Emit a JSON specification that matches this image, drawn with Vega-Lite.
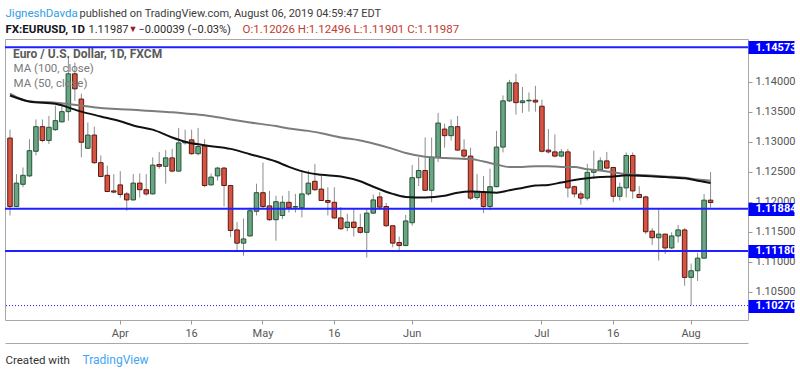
{
  "$schema": "https://vega.github.io/schema/vega-lite/v6.json",
  "width": 743,
  "height": 281,
  "autosize": {"type": "none"},
  "padding": {"left": 5, "top": 39, "right": 52, "bottom": 56},
  "background": "white",
  "config": {
    "view": {"stroke": "#a8a8a8", "strokeWidth": 1},
    "font": "Roboto, sans-serif"
  },
  "datasets": {
    "candles": [
      {"date": "2019-03-07", "open": 1.1306, "high": 1.1320, "low": 1.1177, "close": 1.1192},
      {"date": "2019-03-08", "open": 1.1192, "high": 1.1246, "low": 1.1191, "close": 1.1231},
      {"date": "2019-03-11", "open": 1.1229, "high": 1.1257, "low": 1.1224, "close": 1.1244},
      {"date": "2019-03-12", "open": 1.1243, "high": 1.1304, "low": 1.1241, "close": 1.1285},
      {"date": "2019-03-13", "open": 1.1284, "high": 1.1337, "low": 1.1277, "close": 1.1325},
      {"date": "2019-03-14", "open": 1.1325, "high": 1.1337, "low": 1.1299, "close": 1.1302},
      {"date": "2019-03-15", "open": 1.1302, "high": 1.1343, "low": 1.1296, "close": 1.1324},
      {"date": "2019-03-18", "open": 1.1320, "high": 1.1360, "low": 1.1318, "close": 1.1335},
      {"date": "2019-03-19", "open": 1.1333, "high": 1.1360, "low": 1.1332, "close": 1.1350},
      {"date": "2019-03-20", "open": 1.1350, "high": 1.1443, "low": 1.1335, "close": 1.1413},
      {"date": "2019-03-21", "open": 1.1413, "high": 1.1432, "low": 1.1368, "close": 1.1388},
      {"date": "2019-03-22", "open": 1.1371, "high": 1.1380, "low": 1.1274, "close": 1.1299},
      {"date": "2019-03-25", "open": 1.1289, "high": 1.1332, "low": 1.1288, "close": 1.1311},
      {"date": "2019-03-26", "open": 1.1311, "high": 1.1325, "low": 1.1263, "close": 1.1265},
      {"date": "2019-03-27", "open": 1.1265, "high": 1.1277, "low": 1.1241, "close": 1.1242},
      {"date": "2019-03-28", "open": 1.1244, "high": 1.1260, "low": 1.1216, "close": 1.1217},
      {"date": "2019-03-29", "open": 1.1218, "high": 1.1246, "low": 1.1214, "close": 1.1216},
      {"date": "2019-04-01", "open": 1.1228, "high": 1.1251, "low": 1.1207, "close": 1.1212},
      {"date": "2019-04-02", "open": 1.1213, "high": 1.1216, "low": 1.1185, "close": 1.1203},
      {"date": "2019-04-03", "open": 1.1203, "high": 1.1246, "low": 1.1202, "close": 1.1231},
      {"date": "2019-04-04", "open": 1.1231, "high": 1.1247, "low": 1.1207, "close": 1.1220},
      {"date": "2019-04-05", "open": 1.1220, "high": 1.1246, "low": 1.1210, "close": 1.1213},
      {"date": "2019-04-08", "open": 1.1213, "high": 1.1274, "low": 1.1212, "close": 1.1261},
      {"date": "2019-04-09", "open": 1.1262, "high": 1.1283, "low": 1.1255, "close": 1.1259},
      {"date": "2019-04-10", "open": 1.1259, "high": 1.1286, "low": 1.1230, "close": 1.1273},
      {"date": "2019-04-11", "open": 1.1273, "high": 1.1288, "low": 1.1249, "close": 1.1251},
      {"date": "2019-04-12", "open": 1.1251, "high": 1.1323, "low": 1.1250, "close": 1.1298},
      {"date": "2019-04-15", "open": 1.1298, "high": 1.1320, "low": 1.1295, "close": 1.1300},
      {"date": "2019-04-16", "open": 1.1303, "high": 1.1320, "low": 1.1278, "close": 1.1280},
      {"date": "2019-04-17", "open": 1.1280, "high": 1.1323, "low": 1.1277, "close": 1.1292},
      {"date": "2019-04-18", "open": 1.1293, "high": 1.1304, "low": 1.1224, "close": 1.1227},
      {"date": "2019-04-19", "open": 1.1228, "high": 1.1247, "low": 1.1227, "close": 1.1241},
      {"date": "2019-04-22", "open": 1.1243, "high": 1.1258, "low": 1.1235, "close": 1.1256},
      {"date": "2019-04-23", "open": 1.1256, "high": 1.1258, "low": 1.1192, "close": 1.1227},
      {"date": "2019-04-24", "open": 1.1227, "high": 1.1228, "low": 1.1141, "close": 1.1152},
      {"date": "2019-04-25", "open": 1.1153, "high": 1.1166, "low": 1.1118, "close": 1.1131},
      {"date": "2019-04-26", "open": 1.1131, "high": 1.1172, "low": 1.1110, "close": 1.1138},
      {"date": "2019-04-29", "open": 1.1143, "high": 1.1190, "low": 1.1142, "close": 1.1185},
      {"date": "2019-04-30", "open": 1.1184, "high": 1.1230, "low": 1.1177, "close": 1.1215},
      {"date": "2019-05-01", "open": 1.1215, "high": 1.1265, "low": 1.1188, "close": 1.1192},
      {"date": "2019-05-02", "open": 1.1193, "high": 1.1218, "low": 1.1168, "close": 1.1170},
      {"date": "2019-05-03", "open": 1.1170, "high": 1.1210, "low": 1.1135, "close": 1.1200},
      {"date": "2019-05-06", "open": 1.1177, "high": 1.1210, "low": 1.1171, "close": 1.1199},
      {"date": "2019-05-07", "open": 1.1199, "high": 1.1218, "low": 1.1182, "close": 1.1190},
      {"date": "2019-05-08", "open": 1.1191, "high": 1.1213, "low": 1.1182, "close": 1.1192},
      {"date": "2019-05-09", "open": 1.1190, "high": 1.1252, "low": 1.1174, "close": 1.1213},
      {"date": "2019-05-10", "open": 1.1213, "high": 1.1252, "low": 1.1210, "close": 1.1231},
      {"date": "2019-05-13", "open": 1.1234, "high": 1.1263, "low": 1.1218, "close": 1.1220},
      {"date": "2019-05-14", "open": 1.1221, "high": 1.1243, "low": 1.1201, "close": 1.1202},
      {"date": "2019-05-15", "open": 1.1202, "high": 1.1224, "low": 1.1177, "close": 1.1199},
      {"date": "2019-05-16", "open": 1.1199, "high": 1.1224, "low": 1.1171, "close": 1.1173},
      {"date": "2019-05-17", "open": 1.1173, "high": 1.1191, "low": 1.1153, "close": 1.1155},
      {"date": "2019-05-20", "open": 1.1157, "high": 1.1180, "low": 1.1151, "close": 1.1166},
      {"date": "2019-05-21", "open": 1.1166, "high": 1.1188, "low": 1.1142, "close": 1.1157},
      {"date": "2019-05-22", "open": 1.1157, "high": 1.1180, "low": 1.1147, "close": 1.1149},
      {"date": "2019-05-23", "open": 1.1149, "high": 1.1188, "low": 1.1107, "close": 1.1181},
      {"date": "2019-05-24", "open": 1.1181, "high": 1.1212, "low": 1.1180, "close": 1.1203},
      {"date": "2019-05-27", "open": 1.1208, "high": 1.1216, "low": 1.1186, "close": 1.1191},
      {"date": "2019-05-28", "open": 1.1192, "high": 1.1198, "low": 1.1158, "close": 1.1160},
      {"date": "2019-05-29", "open": 1.1160, "high": 1.1160, "low": 1.1124, "close": 1.1131},
      {"date": "2019-05-30", "open": 1.1132, "high": 1.1142, "low": 1.1117, "close": 1.1127},
      {"date": "2019-05-31", "open": 1.1127, "high": 1.1178, "low": 1.1126, "close": 1.1168},
      {"date": "2019-06-03", "open": 1.1165, "high": 1.1261, "low": 1.1160, "close": 1.1240},
      {"date": "2019-06-04", "open": 1.1240, "high": 1.1274, "low": 1.1226, "close": 1.1252},
      {"date": "2019-06-05", "open": 1.1252, "high": 1.1307, "low": 1.1218, "close": 1.1219},
      {"date": "2019-06-06", "open": 1.1219, "high": 1.1307, "low": 1.1199, "close": 1.1274},
      {"date": "2019-06-07", "open": 1.1274, "high": 1.1348, "low": 1.1266, "close": 1.1331},
      {"date": "2019-06-10", "open": 1.1321, "high": 1.1330, "low": 1.1290, "close": 1.1310},
      {"date": "2019-06-11", "open": 1.1310, "high": 1.1337, "low": 1.1302, "close": 1.1325},
      {"date": "2019-06-12", "open": 1.1325, "high": 1.1343, "low": 1.1285, "close": 1.1286},
      {"date": "2019-06-13", "open": 1.1286, "high": 1.1304, "low": 1.1270, "close": 1.1276},
      {"date": "2019-06-14", "open": 1.1276, "high": 1.1290, "low": 1.1203, "close": 1.1206},
      {"date": "2019-06-17", "open": 1.1207, "high": 1.1246, "low": 1.1203, "close": 1.1216},
      {"date": "2019-06-18", "open": 1.1216, "high": 1.1243, "low": 1.1181, "close": 1.1192},
      {"date": "2019-06-19", "open": 1.1192, "high": 1.1255, "low": 1.1186, "close": 1.1225},
      {"date": "2019-06-20", "open": 1.1225, "high": 1.1318, "low": 1.1224, "close": 1.1291},
      {"date": "2019-06-21", "open": 1.1291, "high": 1.1377, "low": 1.1282, "close": 1.1368},
      {"date": "2019-06-24", "open": 1.1368, "high": 1.1403, "low": 1.1366, "close": 1.1398},
      {"date": "2019-06-25", "open": 1.1398, "high": 1.1413, "low": 1.1345, "close": 1.1365},
      {"date": "2019-06-26", "open": 1.1365, "high": 1.1391, "low": 1.1348, "close": 1.1368},
      {"date": "2019-06-27", "open": 1.1368, "high": 1.1382, "low": 1.1350, "close": 1.1369},
      {"date": "2019-06-28", "open": 1.1369, "high": 1.1393, "low": 1.1350, "close": 1.1366},
      {"date": "2019-07-01", "open": 1.1359, "high": 1.1370, "low": 1.1282, "close": 1.1284},
      {"date": "2019-07-02", "open": 1.1286, "high": 1.1321, "low": 1.1280, "close": 1.1283},
      {"date": "2019-07-03", "open": 1.1283, "high": 1.1312, "low": 1.1274, "close": 1.1276},
      {"date": "2019-07-04", "open": 1.1276, "high": 1.1288, "low": 1.1274, "close": 1.1283},
      {"date": "2019-07-05", "open": 1.1283, "high": 1.1288, "low": 1.1207, "close": 1.1223},
      {"date": "2019-07-08", "open": 1.1225, "high": 1.1227, "low": 1.1207, "close": 1.1213},
      {"date": "2019-07-09", "open": 1.1213, "high": 1.1217, "low": 1.1195, "close": 1.1206},
      {"date": "2019-07-10", "open": 1.1206, "high": 1.1263, "low": 1.1202, "close": 1.1249},
      {"date": "2019-07-11", "open": 1.1249, "high": 1.1285, "low": 1.1238, "close": 1.1253},
      {"date": "2019-07-12", "open": 1.1253, "high": 1.1274, "low": 1.1252, "close": 1.1268},
      {"date": "2019-07-15", "open": 1.1268, "high": 1.1283, "low": 1.1255, "close": 1.1256},
      {"date": "2019-07-16", "open": 1.1257, "high": 1.1258, "low": 1.1199, "close": 1.1209},
      {"date": "2019-07-17", "open": 1.1209, "high": 1.1232, "low": 1.1202, "close": 1.1224},
      {"date": "2019-07-18", "open": 1.1223, "high": 1.1282, "low": 1.1207, "close": 1.1277},
      {"date": "2019-07-19", "open": 1.1277, "high": 1.1282, "low": 1.1205, "close": 1.1218},
      {"date": "2019-07-22", "open": 1.1212, "high": 1.1226, "low": 1.1206, "close": 1.1207},
      {"date": "2019-07-23", "open": 1.1208, "high": 1.1210, "low": 1.1146, "close": 1.1150},
      {"date": "2019-07-24", "open": 1.1151, "high": 1.1156, "low": 1.1128, "close": 1.1140},
      {"date": "2019-07-25", "open": 1.1140, "high": 1.1188, "low": 1.1102, "close": 1.1146},
      {"date": "2019-07-26", "open": 1.1146, "high": 1.1147, "low": 1.1113, "close": 1.1123},
      {"date": "2019-07-29", "open": 1.1123, "high": 1.1149, "low": 1.1121, "close": 1.1143},
      {"date": "2019-07-30", "open": 1.1143, "high": 1.1161, "low": 1.1132, "close": 1.1153},
      {"date": "2019-07-31", "open": 1.1153, "high": 1.1156, "low": 1.1060, "close": 1.1074},
      {"date": "2019-08-01", "open": 1.1074, "high": 1.1097, "low": 1.1027, "close": 1.1085},
      {"date": "2019-08-02", "open": 1.1085, "high": 1.1115, "low": 1.1068, "close": 1.1106},
      {"date": "2019-08-05", "open": 1.1106, "high": 1.1213, "low": 1.1105, "close": 1.12026},
      {"date": "2019-08-06", "open": 1.12026, "high": 1.12496, "low": 1.11901, "close": 1.11987}
    ],
    "ma": [
      {"date": "2019-03-07", "ma100": 1.1380, "ma50": 1.1377},
      {"date": "2019-03-12", "ma100": 1.1367, "ma50": 1.1367},
      {"date": "2019-03-18", "ma100": 1.1365, "ma50": 1.1363},
      {"date": "2019-03-22", "ma100": 1.1360, "ma50": 1.1350},
      {"date": "2019-03-27", "ma100": 1.1356, "ma50": 1.1342},
      {"date": "2019-04-01", "ma100": 1.1354, "ma50": 1.1334},
      {"date": "2019-04-03", "ma100": 1.1353, "ma50": 1.1327},
      {"date": "2019-04-08", "ma100": 1.1351, "ma50": 1.1320},
      {"date": "2019-04-11", "ma100": 1.1349, "ma50": 1.1307},
      {"date": "2019-04-15", "ma100": 1.1347, "ma50": 1.1300},
      {"date": "2019-04-18", "ma100": 1.1344, "ma50": 1.1294},
      {"date": "2019-04-24", "ma100": 1.1337, "ma50": 1.1288},
      {"date": "2019-04-29", "ma100": 1.1332, "ma50": 1.1279},
      {"date": "2019-05-03", "ma100": 1.1326, "ma50": 1.1267},
      {"date": "2019-05-07", "ma100": 1.1322, "ma50": 1.1258},
      {"date": "2019-05-10", "ma100": 1.1318, "ma50": 1.1248},
      {"date": "2019-05-14", "ma100": 1.1314, "ma50": 1.1245},
      {"date": "2019-05-17", "ma100": 1.1307, "ma50": 1.1242},
      {"date": "2019-05-22", "ma100": 1.1302, "ma50": 1.1234},
      {"date": "2019-05-24", "ma100": 1.1297, "ma50": 1.1225},
      {"date": "2019-05-29", "ma100": 1.1288, "ma50": 1.1213},
      {"date": "2019-05-31", "ma100": 1.1281, "ma50": 1.1208},
      {"date": "2019-06-05", "ma100": 1.1275, "ma50": 1.1207},
      {"date": "2019-06-10", "ma100": 1.1273, "ma50": 1.1210},
      {"date": "2019-06-12", "ma100": 1.1272, "ma50": 1.1215},
      {"date": "2019-06-14", "ma100": 1.1271, "ma50": 1.1217},
      {"date": "2019-06-18", "ma100": 1.1267, "ma50": 1.1216},
      {"date": "2019-06-20", "ma100": 1.1262, "ma50": 1.1215},
      {"date": "2019-06-24", "ma100": 1.1258, "ma50": 1.1219},
      {"date": "2019-06-26", "ma100": 1.1258, "ma50": 1.1223},
      {"date": "2019-06-28", "ma100": 1.1259, "ma50": 1.1227},
      {"date": "2019-07-02", "ma100": 1.1259, "ma50": 1.1228},
      {"date": "2019-07-04", "ma100": 1.1258, "ma50": 1.1232},
      {"date": "2019-07-08", "ma100": 1.1258, "ma50": 1.1236},
      {"date": "2019-07-10", "ma100": 1.1254, "ma50": 1.1239},
      {"date": "2019-07-12", "ma100": 1.1252, "ma50": 1.1241},
      {"date": "2019-07-16", "ma100": 1.1249, "ma50": 1.1242},
      {"date": "2019-07-18", "ma100": 1.1246, "ma50": 1.1244},
      {"date": "2019-07-23", "ma100": 1.1244, "ma50": 1.1243},
      {"date": "2019-07-26", "ma100": 1.1242, "ma50": 1.1241},
      {"date": "2019-07-31", "ma100": 1.1240, "ma50": 1.1239},
      {"date": "2019-08-02", "ma100": 1.1237, "ma50": 1.1235},
      {"date": "2019-08-06", "ma100": 1.1235, "ma50": 1.1231}
    ],
    "levels": [
      {"price": 1.14573},
      {"price": 1.11884},
      {"price": 1.1118},
      {"price": 1.1027}
    ]
  },
  "layer": [
    {
      "data": {"name": "candles"},
      "mark": {"type": "rule", "color": "#8c8c8c", "strokeWidth": 1},
      "encoding": {
        "x": {
          "field": "date", "type": "ordinal",
          "scale": {
            "domain": ["2019-03-07","2019-03-08","2019-03-11","2019-03-12","2019-03-13","2019-03-14","2019-03-15","2019-03-18","2019-03-19","2019-03-20","2019-03-21","2019-03-22","2019-03-25","2019-03-26","2019-03-27","2019-03-28","2019-03-29","2019-04-01","2019-04-02","2019-04-03","2019-04-04","2019-04-05","2019-04-08","2019-04-09","2019-04-10","2019-04-11","2019-04-12","2019-04-15","2019-04-16","2019-04-17","2019-04-18","2019-04-19","2019-04-22","2019-04-23","2019-04-24","2019-04-25","2019-04-26","2019-04-29","2019-04-30","2019-05-01","2019-05-02","2019-05-03","2019-05-06","2019-05-07","2019-05-08","2019-05-09","2019-05-10","2019-05-13","2019-05-14","2019-05-15","2019-05-16","2019-05-17","2019-05-20","2019-05-21","2019-05-22","2019-05-23","2019-05-24","2019-05-27","2019-05-28","2019-05-29","2019-05-30","2019-05-31","2019-06-03","2019-06-04","2019-06-05","2019-06-06","2019-06-07","2019-06-10","2019-06-11","2019-06-12","2019-06-13","2019-06-14","2019-06-17","2019-06-18","2019-06-19","2019-06-20","2019-06-21","2019-06-24","2019-06-25","2019-06-26","2019-06-27","2019-06-28","2019-07-01","2019-07-02","2019-07-03","2019-07-04","2019-07-05","2019-07-08","2019-07-09","2019-07-10","2019-07-11","2019-07-12","2019-07-15","2019-07-16","2019-07-17","2019-07-18","2019-07-19","2019-07-22","2019-07-23","2019-07-24","2019-07-25","2019-07-26","2019-07-29","2019-07-30","2019-07-31","2019-08-01","2019-08-02","2019-08-05","2019-08-06","2019-08-07","2019-08-08","2019-08-09","2019-08-12","2019-08-13"],
            "paddingInner": 0.3,
            "paddingOuter": 0.42
          },
          "axis": {
            "orient": "bottom",
            "values": ["2019-04-01", "2019-04-16", "2019-05-01", "2019-05-16", "2019-06-03", "2019-07-01", "2019-07-16", "2019-08-01"],
            "labelExpr": "datum.value == '2019-04-01' ? 'Apr' : datum.value == '2019-05-01' ? 'May' : datum.value == '2019-06-03' ? 'Jun' : datum.value == '2019-07-01' ? 'Jul' : datum.value == '2019-08-01' ? 'Aug' : '16'",
            "labelAngle": 0,
            "labelOverlap": false,
            "domain": false,
            "grid": false,
            "tickColor": "#9a9a9a",
            "tickSize": 4,
            "labelColor": "#555555",
            "labelFontSize": 11,
            "labelPadding": 3,
            "title": null
          }
        },
        "y": {
          "field": "low", "type": "quantitative",
          "scale": {"domain": [1.1003, 1.1471], "nice": false, "zero": false},
          "axis": {
            "orient": "right",
            "values": [1.105, 1.11, 1.115, 1.12, 1.125, 1.13, 1.135, 1.14],
            "format": ".5f",
            "domain": false,
            "grid": false,
            "tickColor": "#9a9a9a",
            "tickSize": 4,
            "labelColor": "#555555",
            "labelFontSize": 11,
            "labelPadding": 3,
            "labelFlush": false,
            "title": "▼", "titleX": -620, "titleY": -8, "titleAlign": "left", "titleBaseline": "alphabetic",
            "titleAngle": 0, "titleFontSize": 9, "titleFontWeight": "normal", "titleColor": "#9b1c1c", "titleLimit": 1000
          }
        },
        "y2": {"field": "high"}
      }
    },
    {
      "data": {"name": "candles"},
      "mark": {"type": "bar", "strokeWidth": 1},
      "encoding": {
        "x": {
          "field": "date", "type": "ordinal",
          "axis": {
            "orient": "top", "domain": false, "ticks": false, "labels": false, "grid": false,
            "title": "JigneshDavda", "titleX": 0, "titleY": -23, "titleAlign": "left", "titleBaseline": "alphabetic",
            "titleAngle": 0, "titleFontSize": 11.5, "titleFontWeight": "normal", "titleColor": "#2f9ee6", "titleLimit": 1000
          }
        },
        "y": {
          "field": "open", "type": "quantitative",
          "axis": {
            "orient": "left", "domain": false, "ticks": false, "labels": false, "grid": false,
            "title": "published on TradingView.com, August 06, 2019 04:59:47 EDT", "titleX": 74, "titleY": -23, "titleAlign": "left", "titleBaseline": "alphabetic",
            "titleAngle": 0, "titleFontSize": 11, "titleFontWeight": "normal", "titleColor": "#3c3c3c", "titleLimit": 1000
          }
        },
        "y2": {"field": "close"},
        "fill": {"condition": {"test": "datum.close >= datum.open", "value": "#6ba583"}, "value": "#d75442"},
        "stroke": {"condition": {"test": "datum.close >= datum.open", "value": "#225437"}, "value": "#5b1a13"}
      }
    },
    {
      "data": {"name": "ma"},
      "mark": {"type": "line", "strokeWidth": 2, "interpolate": "monotone"},
      "encoding": {
        "x": {
          "field": "date", "type": "ordinal",
          "axis": {
            "orient": "bottom", "offset": 23, "domainColor": "#a8a8a8", "ticks": false, "labels": false, "grid": false,
            "title": "Created with", "titleX": 0, "titleY": 20, "titleAlign": "left", "titleBaseline": "alphabetic",
            "titleFontSize": 11.5, "titleFontWeight": "normal", "titleColor": "#333333", "titleLimit": 1000
          }
        },
        "y": {
          "field": "ma100", "type": "quantitative",
          "axis": {
            "orient": "left", "domain": false, "ticks": false, "labels": false, "grid": false,
            "title": "1.11987", "titleX": 83, "titleY": -7, "titleAlign": "left", "titleBaseline": "alphabetic",
            "titleAngle": 0, "titleFontSize": 11, "titleFontWeight": "normal", "titleColor": "#2a2a2a", "titleLimit": 1000
          }
        },
        "color": {
          "datum": "MA (100, close)", "type": "nominal",
          "scale": {"domain": ["MA (100, close)", "MA (50, close)"], "range": ["#7c7c7c", "#111111"]},
          "legend": {
            "orient": "none",
            "legendX": 8,
            "legendY": 10,
            "padding": 0,
            "title": "Euro / U.S. Dollar, 1D, FXCM",
            "titleFontSize": 12,
            "titleFontWeight": "bold",
            "titleColor": "#5a5a5a",
            "titlePadding": 2,
            "labelFontSize": 11.5,
            "labelColor": "#7a7a7a",
            "symbolOpacity": 0,
            "symbolSize": 0,
            "symbolStrokeWidth": 0,
            "labelOffset": -11,
            "rowPadding": 2
          }
        }
      }
    },
    {
      "data": {"name": "ma"},
      "mark": {"type": "line", "strokeWidth": 2, "interpolate": "monotone"},
      "encoding": {
        "x": {
          "field": "date", "type": "ordinal",
          "axis": {
            "orient": "top", "domain": false, "ticks": false, "labels": false, "grid": false,
            "title": "FX:EURUSD, 1D", "titleX": 0, "titleY": -7, "titleAlign": "left", "titleBaseline": "alphabetic",
            "titleAngle": 0, "titleFontSize": 11.5, "titleFontWeight": "bold", "titleColor": "#131722", "titleLimit": 1000
          }
        },
        "y": {
          "field": "ma50", "type": "quantitative",
          "axis": {
            "orient": "left", "domain": false, "ticks": false, "labels": false, "grid": false,
            "title": "O:1.12026  H:1.12496  L:1.11901  C:1.11987", "titleX": 237, "titleY": -7, "titleAlign": "left", "titleBaseline": "alphabetic",
            "titleAngle": 0, "titleFontSize": 11.5, "titleFontWeight": "normal", "titleColor": "#c23b32", "titleLimit": 1000
          }
        },
        "color": {"datum": "MA (50, close)", "type": "nominal"}
      }
    },
    {
      "data": {"name": "levels"},
      "transform": [{"filter": "datum.price > 1.105"}],
      "mark": {"type": "rule", "color": "#1f1fff", "strokeWidth": 2},
      "encoding": {
        "y": {
          "field": "price", "type": "quantitative",
          "axis": {
            "orient": "right",
            "values": [1.14573, 1.11884, 1.1118, 1.1027],
            "format": ".5f",
            "domain": false,
            "grid": false,
            "tickColor": "#0000ff",
            "tickSize": 46,
            "tickWidth": 13,
            "tickCap": "butt",
            "labelColor": "#ffffff",
            "labelFontWeight": "bold",
            "labelFontSize": 11,
            "labelPadding": -39,
            "labelFlush": false,
            "labelOverlap": false,
            "title": "−0.00039 (−0.03%)", "titleX": -610, "titleY": -7, "titleAlign": "left", "titleBaseline": "alphabetic",
            "titleAngle": 0, "titleFontSize": 11, "titleFontWeight": "normal", "titleColor": "#2a2a2a", "titleLimit": 1000
          }
        }
      }
    },
    {
      "data": {"name": "levels"},
      "transform": [{"filter": "datum.price < 1.105"}],
      "mark": {"type": "rule", "color": "#1f1fff", "strokeWidth": 1, "strokeDash": [1, 2]},
      "encoding": {
        "y": {
          "field": "price", "type": "quantitative",
          "axis": {
            "orient": "left", "domain": false, "ticks": false, "labels": false, "grid": false,
            "title": "TradingView", "titleX": 77, "titleY": 324, "titleAlign": "left", "titleBaseline": "alphabetic",
            "titleAngle": 0, "titleFontSize": 12, "titleFontWeight": "normal", "titleColor": "#42a5f5", "titleLimit": 1000
          }
        }
      }
    }
  ],
  "resolve": {"axis": {"x": "independent", "y": "independent"}}
}
